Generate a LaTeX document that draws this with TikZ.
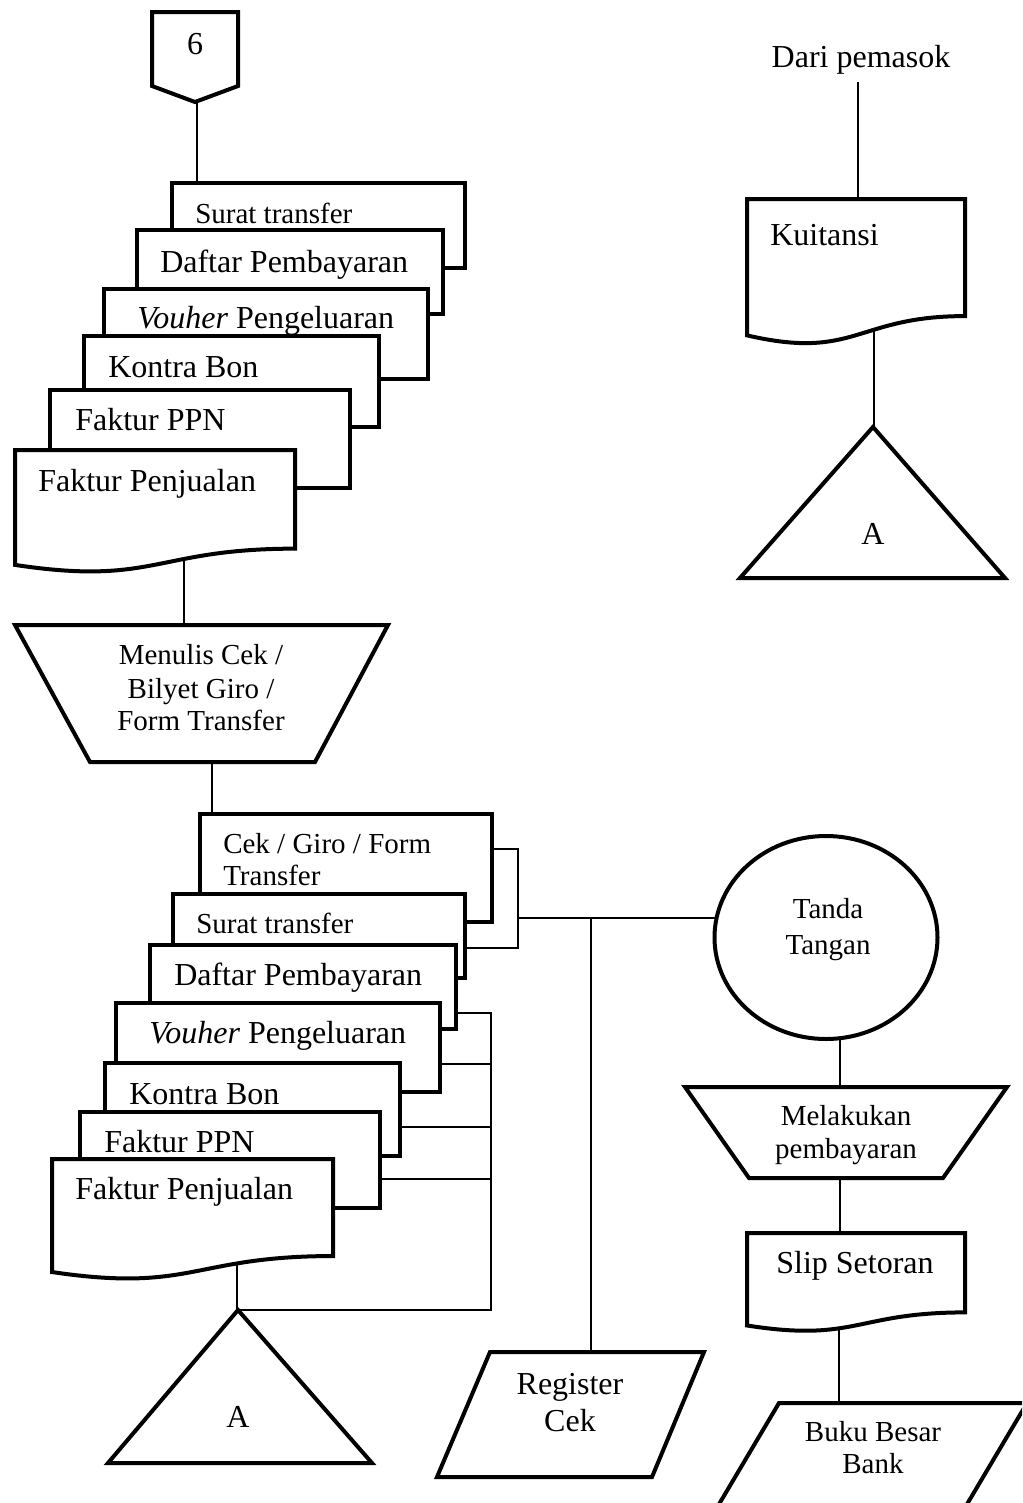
\documentclass[tikz,border=0pt]{standalone}
\usepackage{fontspec}
\setmainfont{Liberation Serif}
\usetikzlibrary{shapes.geometric}
\newcommand\docshp[4]{% x0, x1, ytop, h
  \draw[shp] (#1,#3) -- (#2,#3) -- (#2,{#3+0.802*#4})
    .. controls ({(#1+#2)/2},{#3+0.802*#4}) and ({(#1+#2)/2},{#3+1.107*#4}) .. (#1,{#3+0.934*#4}) -- cycle;}
\begin{document}
\begin{tikzpicture}[x=0.75pt,y=-0.75pt,
  shp/.style={draw=black,line width=3pt,fill=white,line join=miter},
  conn/.style={draw=black,line width=1pt},
  big/.style={font=\fontsize{24}{28}\selectfont,inner sep=0pt},
  sml/.style={font=\fontsize{21.75}{26}\selectfont,inner sep=0pt},
  lt/.style={anchor=base west},
  ct/.style={anchor=base}]
\clip (0,0) rectangle (1022,1503);
\fill[white] (0,0) rectangle (1022,1503);

% ---------- connector end points ----------
\coordinate (c6) at (197,100);
\coordinate (st1T) at (197,183);
\coordinate (fp1B) at (184,560);
\coordinate (menT) at (184,625);
\coordinate (menB) at (212,762);
\coordinate (cekT) at (212,814);
\coordinate (cekR) at (492,849);
\coordinate (b1) at (518,849);
\coordinate (b2) at (518,948);
\coordinate (st2R) at (465,948);
\coordinate (b3) at (518,918);
\coordinate (j1) at (591,918);
\coordinate (ttL) at (725,918);
\coordinate (regT) at (591,1352);
\coordinate (ttB) at (840,1000);
\coordinate (mlT) at (840,1087);
\coordinate (mlB) at (840,1178);
\coordinate (slT) at (840,1233);
\coordinate (slB) at (839,1300);
\coordinate (bbT) at (839,1403);
\coordinate (dariB) at (858,82);
\coordinate (kuiT) at (858,199);
\coordinate (kuiB) at (874,320);
\coordinate (a1T) at (874,427);
\coordinate (fp2B) at (237,1250);
\coordinate (a2T) at (237,1310);
\coordinate (k1) at (491,1310);
\coordinate (k2) at (491,1013);
\coordinate (d2R) at (456,1013);
\coordinate (v2R) at (440,1064);
\coordinate (v2J) at (491,1064);
\coordinate (ko2R) at (400,1127);
\coordinate (ko2J) at (491,1127);
\coordinate (p2R) at (380,1179);
\coordinate (p2J) at (491,1179);

% ---------- connectors ----------
\draw[conn] (c6) -- (st1T);
\draw[conn] (fp1B) -- (menT);
\draw[conn] (menB) -- (cekT);
\draw[conn] (cekR) -- (b1) -- (b2) -- (st2R);
\draw[conn] (b3) -- (ttL);
\draw[conn] (j1) -- (regT);
\draw[conn] (ttB) -- (mlT);
\draw[conn] (mlB) -- (slT);
\draw[conn] (slB) -- (bbT);
\draw[conn] (dariB) -- (kuiT);
\draw[conn] (kuiB) -- (a1T);
\draw[conn] (fp2B) -- (a2T) -- (k1) -- (k2) -- (d2R);
\draw[conn] (v2R) -- (v2J);
\draw[conn] (ko2R) -- (ko2J);
\draw[conn] (p2R) -- (p2J);

% ---------- shapes ----------
\draw[shp] (152,12) -- (238,12) -- (238,86) -- (195,102) -- (152,86) -- cycle;
% top stack
\draw[shp] (172,183) rectangle (465,268);
\draw[shp] (137,230) rectangle (443,314);
\draw[shp] (104,289) rectangle (428,379);
\draw[shp] (84,336) rectangle (379,427);
\draw[shp] (50,390) rectangle (350,488);
\docshp{15}{295}{450}{123}
% manual operation
\draw[shp] (15,625) -- (388,625) -- (315,762) -- (90,762) -- cycle;
% bottom stack
\draw[shp] (200,814) rectangle (492,922);
\draw[shp] (173,894) rectangle (465,978);
\draw[shp] (150,945) rectangle (456,1029);
\draw[shp] (116,1003) rectangle (440,1092);
\draw[shp] (105,1063) rectangle (400,1156);
\draw[shp] (80,1112) rectangle (380,1208);
\docshp{52}{333}{1159}{121}
% off-page A bottom
\draw[shp] (238,1310) -- (372,1463) -- (108,1463) -- cycle;
% register cek
\draw[shp] (490,1352) -- (704,1352) -- (652,1477) -- (437,1477) -- cycle;
% kuitansi
\docshp{747}{965}{199}{146}
\draw[shp] (873,427) -- (1005,578) -- (740,578) -- cycle;
% tanda tangan
\node[shp,ellipse,minimum width=167.25pt,minimum height=152.25pt,inner sep=0pt] (tt) at (826,937.5) {};
% melakukan pembayaran
\draw[shp] (685,1087) -- (1007,1087) -- (943,1178) -- (749,1178) -- cycle;
% slip setoran
\docshp{747}{965}{1233}{99}
% buku besar bank
\draw[shp] (779,1403) -- (1027,1403) -- (944,1543) -- (696,1543) -- cycle;

% ---------- texts ----------
\node[big,ct] (six) at (195,54) {6};
\node[sml,lt] (ts1) at (195,223) {Surat transfer};
\node[big,lt] (td1) at (160,272) {Daftar Pembayaran};
\node[big,lt] (tv1) at (137,328) {\textit{Vouher} Pengeluaran};
\node[big,lt] (tk1) at (108,377) {Kontra Bon};
\node[big,lt] (tp1) at (75,430) {Faktur PPN};
\node[big,lt] (tf1) at (38,491) {Faktur Penjualan};
\node[sml,ct] (tm1) at (201,664) {Menulis Cek /};
\node[sml,ct] (tm2) at (201,698) {Bilyet Giro /};
\node[sml,ct] (tm3) at (201,730) {Form Transfer};
\node[sml,lt] (tc1) at (223,853) {Cek / Giro / Form};
\node[sml,lt] (tc2) at (223,885) {Transfer};
\node[sml,lt] (ts2) at (196,933) {Surat transfer};
\node[big,lt] (td2) at (174,985) {Daftar Pembayaran};
\node[big,lt] (tv2) at (149,1043) {\textit{Vouher} Pengeluaran};
\node[big,lt] (tk2) at (129,1104) {Kontra Bon};
\node[big,lt] (tp2) at (104,1152) {Faktur PPN};
\node[big,lt] (tf2) at (75,1199) {Faktur Penjualan};
\node[big,ct] (tA2) at (238,1427) {A};
\node[big,ct] (treg1) at (570,1394) {Register};
\node[big,ct] (treg2) at (570,1431) {Cek};
\node[big,ct] (dari) at (861,67) {Dari pemasok};
\node[big,lt] (tkui) at (770,245) {Kuitansi};
\node[big,ct] (tA1) at (873,544) {A};
\node[sml,ct] (ttt1) at (828,918) {Tanda};
\node[sml,ct] (ttt2) at (828,954) {Tangan};
\node[sml,ct] (tml1) at (846,1125) {Melakukan};
\node[sml,ct] (tml2) at (846,1158) {pembayaran};
\node[big,ct] (tslip) at (855,1273) {Slip Setoran};
\node[sml,ct] (tbb1) at (873,1441) {Buku Besar};
\node[sml,ct] (tbb2) at (873,1473) {Bank};
\end{tikzpicture}
\end{document}
